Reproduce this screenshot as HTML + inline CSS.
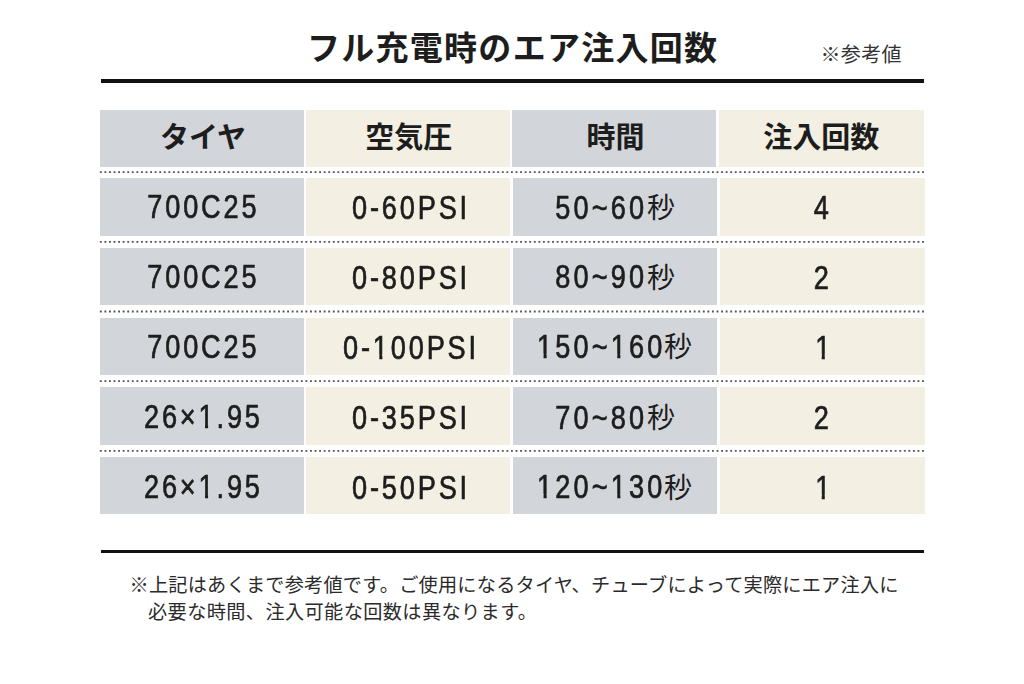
<!DOCTYPE html>
<html lang="ja"><head><meta charset="utf-8"><title>フル充電時のエア注入回数</title>
<style>
html,body{margin:0;padding:0;background:#fff}
body{width:1024px;height:684px;position:relative;overflow:hidden;font-family:"Liberation Sans",sans-serif;color:#1d1d1d}
.jp,.cell,.rule,.dots,.num{position:absolute}
.jp text{font-family:"Liberation Sans","Noto Sans CJK JP",sans-serif}
.dots{left:0;top:0}
.rule{background:#111;height:3.4px;left:100.5px;width:823.1px}
.cell{overflow:visible}
.num{left:-39px;right:-41px;top:1px;bottom:-1px;text-align:center;font-size:32.3px;line-height:57.2px;white-space:nowrap;letter-spacing:3.4px;text-indent:3.4px;-webkit-text-stroke:.7px #1d1d1d;transform:scaleX(.84);transform-origin:50% 50%;filter:grayscale(1)}
.one{display:inline-block;line-height:1;text-indent:0;clip-path:polygon(-2px -2px,calc(100% + 2px) -2px,calc(100% + 2px) .70em,.352em .70em,.352em 1.2em,.239em 1.2em,.239em .70em,-2px .70em)}
.lo{margin-top:1px}
.c0{margin-left:-1.6px}
.c1,.c3{top:2px;bottom:-2px}
.c1{margin-left:.3px}
.c3{margin-left:-3.8px}
.solo1{margin-left:-.8px}
.c2{margin-left:-33.8px;letter-spacing:3.75px;top:1.4px;bottom:-1.4px}
</style></head>
<body>
<svg class="jp" style="left:296px;top:24px" width="432" height="48" viewBox="296 24 432 48"><text x="307" y="59.5" font-size="33" font-weight="bold" fill="#1d1d1d" textLength="410" lengthAdjust="spacing">フル充電時のエア注入回数</text></svg>
<svg class="jp" style="left:812px;top:38px" width="100" height="34" viewBox="812 38 100 34"><text x="820.5" y="62" font-size="20" fill="#333" textLength="81" lengthAdjust="spacing">※参考値</text></svg>
<div class="rule" style="top:79.3px"></div>
<div class="cell" style="left:99.5px;top:110.1px;width:204.3px;height:56.7px;background:#d2d5d9"></div>
<svg class="jp" style="left:100px;top:116px" width="204" height="44" viewBox="100 116 204 44"><text x="203" y="148" font-size="29" font-weight="bold" fill="#1d1d1d" text-anchor="middle">タイヤ</text></svg>
<div class="cell" style="left:305.8px;top:110.1px;width:204.0px;height:56.7px;background:#f3f0e3"></div>
<svg class="jp" style="left:306px;top:116px" width="204" height="44" viewBox="306 116 204 44"><text x="408.7" y="148" font-size="29" font-weight="bold" fill="#1d1d1d" text-anchor="middle">空気圧</text></svg>
<div class="cell" style="left:512.4px;top:110.1px;width:204.1px;height:56.7px;background:#d2d5d9"></div>
<svg class="jp" style="left:513px;top:116px" width="204" height="44" viewBox="513 116 204 44"><text x="615.5" y="148" font-size="29" font-weight="bold" fill="#1d1d1d" text-anchor="middle">時間</text></svg>
<div class="cell" style="left:719.2px;top:110.1px;width:204.6px;height:56.7px;background:#f3f0e3"></div>
<svg class="jp" style="left:720px;top:116px" width="204" height="44" viewBox="720 116 204 44"><text x="821.3" y="148" font-size="29" font-weight="bold" fill="#1d1d1d" text-anchor="middle">注入回数</text></svg>
<div class="cell" style="left:99.5px;top:178.40px;width:204.3px;height:57.2px;background:#d2d5d9"><span class="num c0">700C25</span></div>
<div class="cell" style="left:306.4px;top:178.40px;width:203.4px;height:57.2px;background:#f3f0e3"><span class="num c1">0-60PSI</span></div>
<div class="cell" style="left:513.3px;top:178.40px;width:204.0px;height:57.2px;background:#d2d5d9"><span class="num c2">50~60</span></div>
<svg class="jp" style="left:645px;top:186px" width="32" height="40" viewBox="645 186 32 40"><text x="647" y="218" font-size="28" fill="#1d1d1d">秒</text></svg>
<div class="cell" style="left:720.0px;top:178.40px;width:204.8px;height:57.2px;background:#f3f0e3"><span class="num c3">4</span></div>
<div class="cell" style="left:99.5px;top:248.05px;width:204.3px;height:57.2px;background:#d2d5d9"><span class="num c0">700C25</span></div>
<div class="cell" style="left:306.4px;top:248.05px;width:203.4px;height:57.2px;background:#f3f0e3"><span class="num c1">0-80PSI</span></div>
<div class="cell" style="left:513.3px;top:248.05px;width:204.0px;height:57.2px;background:#d2d5d9"><span class="num c2">80~90</span></div>
<svg class="jp" style="left:645px;top:256px" width="32" height="40" viewBox="645 256 32 40"><text x="647" y="287.7" font-size="28" fill="#1d1d1d">秒</text></svg>
<div class="cell" style="left:720.0px;top:248.05px;width:204.8px;height:57.2px;background:#f3f0e3"><span class="num c3">2</span></div>
<div class="cell" style="left:99.5px;top:317.70px;width:204.3px;height:57.2px;background:#d2d5d9"><span class="num c0">700C25</span></div>
<div class="cell" style="left:306.4px;top:317.70px;width:203.4px;height:57.2px;background:#f3f0e3"><span class="num c1">0-<span class="one">1</span>00PSI</span></div>
<div class="cell" style="left:513.3px;top:317.70px;width:204.0px;height:57.2px;background:#d2d5d9"><span class="num c2"><span class="one">1</span>50~<span class="one">1</span>60</span></div>
<svg class="jp" style="left:662px;top:326px" width="32" height="40" viewBox="662 326 32 40"><text x="664" y="357.3" font-size="28" fill="#1d1d1d">秒</text></svg>
<div class="cell" style="left:720.0px;top:317.70px;width:204.8px;height:57.2px;background:#f3f0e3"><span class="num c3 solo1"><span class="one">1</span></span></div>
<div class="cell" style="left:99.5px;top:387.35px;width:204.3px;height:57.2px;background:#d2d5d9"><span class="num c0 lo">26×<span class="one">1</span>.95</span></div>
<div class="cell" style="left:306.4px;top:387.35px;width:203.4px;height:57.2px;background:#f3f0e3"><span class="num c1 lo">0-35PSI</span></div>
<div class="cell" style="left:513.3px;top:387.35px;width:204.0px;height:57.2px;background:#d2d5d9"><span class="num c2 lo">70~80</span></div>
<svg class="jp" style="left:645px;top:395px" width="32" height="40" viewBox="645 395 32 40"><text x="647" y="428" font-size="28" fill="#1d1d1d">秒</text></svg>
<div class="cell" style="left:720.0px;top:387.35px;width:204.8px;height:57.2px;background:#f3f0e3"><span class="num c3 lo">2</span></div>
<div class="cell" style="left:99.5px;top:457.00px;width:204.3px;height:57.2px;background:#d2d5d9"><span class="num c0 lo">26×<span class="one">1</span>.95</span></div>
<div class="cell" style="left:306.4px;top:457.00px;width:203.4px;height:57.2px;background:#f3f0e3"><span class="num c1 lo">0-50PSI</span></div>
<div class="cell" style="left:513.3px;top:457.00px;width:204.0px;height:57.2px;background:#d2d5d9"><span class="num c2 lo"><span class="one">1</span>20~<span class="one">1</span>30</span></div>
<svg class="jp" style="left:662px;top:465px" width="32" height="40" viewBox="662 465 32 40"><text x="664" y="497.7" font-size="28" fill="#1d1d1d">秒</text></svg>
<div class="cell" style="left:720.0px;top:457.00px;width:204.8px;height:57.2px;background:#f3f0e3"><span class="num c3 lo solo1"><span class="one">1</span></span></div>
<svg class="dots" width="1024" height="684" viewBox="0 0 1024 684"><g stroke="#555" stroke-width="1.8" stroke-dasharray="1.9 2.668" fill="none"><line x1="99.85" x2="924.3" y1="172.20" y2="172.20"/><line x1="99.85" x2="924.3" y1="241.85" y2="241.85"/><line x1="99.85" x2="924.3" y1="311.50" y2="311.50"/><line x1="99.85" x2="924.3" y1="381.15" y2="381.15"/><line x1="99.85" x2="924.3" y1="450.80" y2="450.80"/></g></svg>
<div class="rule" style="top:549.8px"></div>
<svg class="jp note" style="left:124px;top:570px" width="780" height="28" viewBox="124 570 780 28"><text x="129.5" y="591.5" font-size="19.2" fill="#2b2b2b" textLength="769" lengthAdjust="spacing">※上記はあくまで参考値です。ご使用になるタイヤ、チューブによって実際にエア注入に</text></svg>
<svg class="jp note" style="left:124px;top:598px" width="780" height="28" viewBox="124 598 780 28"><text x="148" y="619.3" font-size="19.2" fill="#2b2b2b" textLength="389" lengthAdjust="spacing">必要な時間、注入可能な回数は異なります。</text></svg>
</body></html>
